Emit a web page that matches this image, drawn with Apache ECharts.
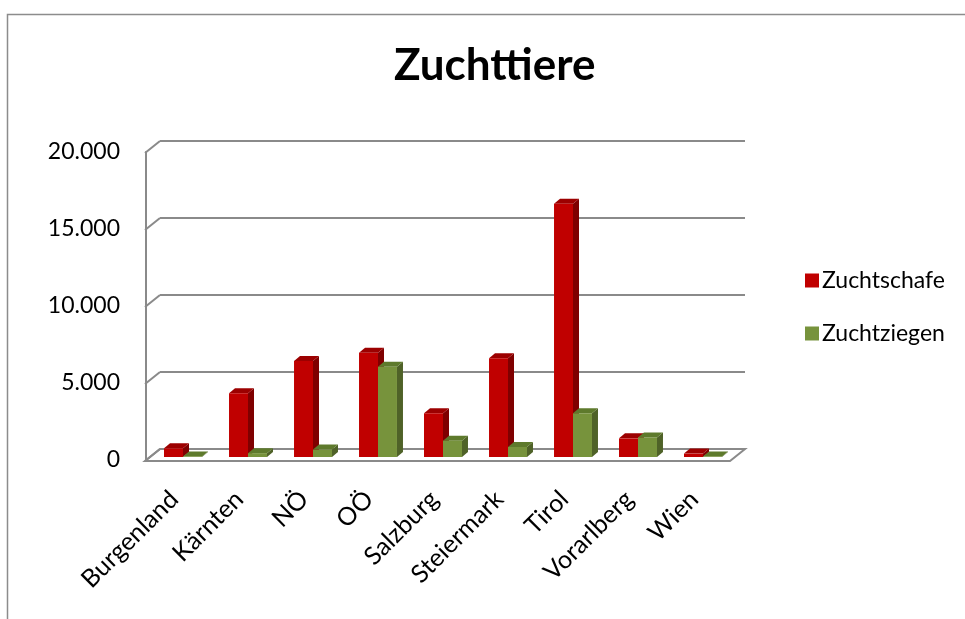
<!DOCTYPE html>
<html>
<head>
<meta charset="utf-8">
<script src="https://cdn.jsdelivr.net/npm/echarts@6/dist/echarts.min.js"></script>
<style>html,body{margin:0;padding:0;background:#fff}#c{width:965px;height:619px}</style>
</head>
<body>
<div id="c"></div>
<script>
const categories = ['Burgenland', 'Kärnten', 'NÖ', 'OÖ', 'Salzburg', 'Steiermark', 'Tirol', 'Vorarlberg', 'Wien'];
const zuchtschafe = [565, 4140, 6230, 6770, 2840, 6410, 16450, 1210, 220];
const zuchtziegen = [40, 250, 480, 5860, 1060, 650, 2840, 1270, 40];
const yTicks = [0, 5000, 10000, 15000, 20000];
const seriesNames = ['Zuchtschafe', 'Zuchtziegen'];

const FONT = 'Lato';
const GRID_COLOR = '#8a8a8a';
const colors = [
  { front: '#C00000', side: '#7F0000', top: '#9C0000' },
  { front: '#77933C', side: '#4F6228', top: '#5E7A2C' }
];
const DEPTH = [-15, 12]; // back wall -> front plane
const BAR_D = [6, -5];

function fmt(v) { return String(v).replace(/\B(?=(\d{3})+(?!\d))/g, '.'); }

function barRenderer(sIdx) {
  return function (params, api) {
    const c = api.value(0), v = api.value(1);
    const p0 = api.coord([c, 0]);
    const p1 = api.coord([c, v]);
    const band = api.size([1, 0])[0];
    const w = band * 0.292;
    const x0 = sIdx === 0 ? p0[0] - w : p0[0];
    const x1 = x0 + w;
    const yb = p0[1], yt = p1[1];
    const col = colors[sIdx];
    return {
      type: 'group',
      children: [
        { type: 'polygon', shape: { points: [[x1, yt], [x1 + BAR_D[0], yt + BAR_D[1]], [x1 + BAR_D[0], yb + BAR_D[1]], [x1, yb]] }, style: { fill: col.side } },
        { type: 'polygon', shape: { points: [[x0, yt], [x0 + BAR_D[0], yt + BAR_D[1]], [x1 + BAR_D[0], yt + BAR_D[1]], [x1, yt]] }, style: { fill: col.top } },
        { type: 'rect', shape: { x: x0, y: yt, width: w, height: yb - yt }, style: { fill: col.front } }
      ]
    };
  };
}

const chart = echarts.init(document.getElementById('c'), null, { renderer: 'canvas' });
chart.setOption({
  animation: false,
  backgroundColor: '#fff',
  textStyle: { fontFamily: FONT },
  title: {
    text: 'Zuchttiere', left: 389, top: 39,
    textStyle: { fontFamily: FONT, fontWeight: 'bold', fontSize: 44, color: '#000' }
  },
  legend: {
    orient: 'vertical', left: 800, top: 264, itemWidth: 14, itemHeight: 14, itemGap: 30,
    icon: 'rect',
    data: seriesNames,
    textStyle: { fontFamily: FONT, fontSize: 23, color: '#000', padding: [0, 0, 0, -2] }
  },
  graphic: [{
    type: 'rect', left: 5, top: 12, shape: { width: 1100, height: 800 }, silent: true,
    style: { fill: 'none', stroke: '#8c8c8c', lineWidth: 1.5 }, z: -10
  }],
  grid: [
    { left: 160, right: 220, top: 141, bottom: 170 },   // back wall
    { left: 150.5, right: 229.5, top: 149, bottom: 162 }, // bars
    { left: 146, right: 234, top: 152, bottom: 159 }    // front axis
  ],
  xAxis: [
    { gridIndex: 0, type: 'value', min: 0, max: 1, show: false },
    { gridIndex: 1, type: 'category', data: categories,
      axisLine: { show: false }, axisTick: { show: false },
      axisLabel: { interval: 0, rotate: 45, margin: 47, verticalAlign: 'bottom', fontFamily: FONT, fontSize: 25, color: '#000' } },
    { gridIndex: 2, type: 'value', min: 0, max: 1, show: false }
  ],
  yAxis: [
    { gridIndex: 0, type: 'value', min: 0, max: 20000, interval: 5000,
      axisLine: { show: false }, axisTick: { show: false }, axisLabel: { show: false },
      splitLine: { show: true, lineStyle: { color: GRID_COLOR, width: 2 } } },
    { gridIndex: 1, type: 'value', min: 0, max: 20000, interval: 5000, show: false },
    { gridIndex: 2, type: 'value', min: 0, max: 20000, interval: 5000,
      axisLine: { show: true, lineStyle: { color: GRID_COLOR, width: 2 } },
      axisTick: { show: false }, splitLine: { show: false },
      axisLabel: { margin: 26, fontFamily: FONT, fontSize: 23, color: '#000', formatter: fmt } }
  ],
  series: [
    { type: 'custom', name: 'floor', xAxisIndex: 0, yAxisIndex: 0, silent: true, z: 1,
      data: [[0]],
      renderItem: function (params, api) {
        const bl = api.coord([0, 0]);
        const br = api.coord([1, 0]);
        return { type: 'polygon', shape: { points: [bl, br, [br[0] + DEPTH[0], br[1] + DEPTH[1]], [bl[0] + DEPTH[0], bl[1] + DEPTH[1]]] },
          style: { fill: '#fff', stroke: GRID_COLOR, lineWidth: 2 } };
      } },
    { type: 'custom', name: 'connectors', xAxisIndex: 0, yAxisIndex: 0, silent: true, z: 1,
      data: yTicks.map(function (t) { return [0, t]; }),
      encode: { x: 0, y: 1 },
      renderItem: function (params, api) {
        const p = api.coord([0, api.value(1)]);
        return { type: 'line', shape: { x1: p[0], y1: p[1], x2: p[0] + DEPTH[0], y2: p[1] + DEPTH[1] },
          style: { stroke: GRID_COLOR, lineWidth: 2 } };
      } },
    { type: 'custom', name: seriesNames[0], xAxisIndex: 1, yAxisIndex: 1, z: 3,
      itemStyle: { color: colors[0].front },
      data: zuchtschafe.map(function (v, i) { return [i, v]; }),
      encode: { x: 0, y: 1 },
      renderItem: barRenderer(0) },
    { type: 'custom', name: seriesNames[1], xAxisIndex: 1, yAxisIndex: 1, z: 4,
      itemStyle: { color: colors[1].front },
      data: zuchtziegen.map(function (v, i) { return [i, v]; }),
      encode: { x: 0, y: 1 },
      renderItem: barRenderer(1) }
  ]
});
</script>
</body>
</html>
